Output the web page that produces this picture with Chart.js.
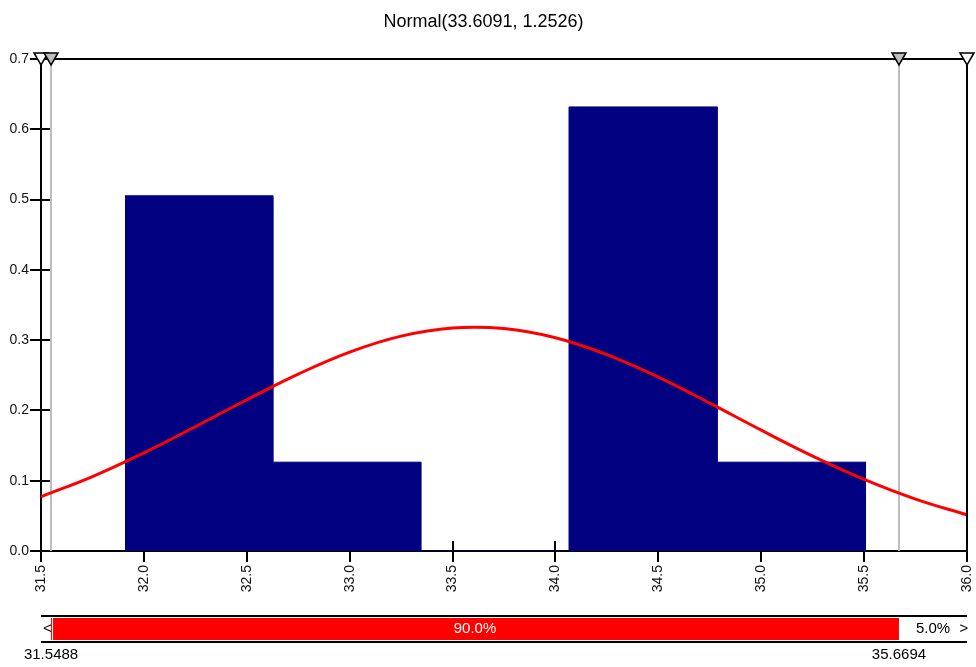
<!DOCTYPE html>
<html>
<head>
<meta charset="utf-8">
<script src="https://cdn.jsdelivr.net/npm/chart.js@4.4.1/dist/chart.umd.min.js"></script>
<style>
  html, body { margin: 0; padding: 0; background: #fff; }
  #wrap { width: 976px; height: 667px; }
</style>
</head>
<body>
<div id="wrap"><canvas id="distChart" width="976" height="667"></canvas></div>
<script>
// Histogram (density) : bin edges and heights
var binEdges = [31.908, 32.628, 33.347, 34.066, 34.787, 35.510];
var binDensity = [0.5054, 0.1264, 0, 0.6318, 0.1264];

// Fitted Normal(33.6091, 1.2526) curve, sampled every 0.25
var curveX = [31.5, 31.75, 32.0, 32.25, 32.5, 32.75, 33.0, 33.25, 33.5, 33.75,
              34.0, 34.25, 34.5, 34.75, 35.0, 35.25, 35.5, 35.75, 36.0];
var curveY = [0.0772, 0.1059, 0.1396, 0.1768, 0.2152, 0.2517, 0.2830, 0.3057, 0.3173, 0.3165,
              0.3034, 0.2794, 0.2474, 0.2104, 0.1719, 0.1350, 0.1019, 0.0739, 0.0515];

// Delimiters and the probability in each region
var cutoffs = [31.5488, 35.6694];
var regionPct = ['5.0%', '90.0%', '5.0%'];

var xTicks = { min: 31.5, max: 36.0, step: 0.5 };
var yTicks = { min: 0, max: 0.7, step: 0.1 };

var FONT = '"Liberation Sans", Arial, sans-serif';

function histPoints() {
  var pts = [];
  for (var i = 0; i < binDensity.length; i++) {
    pts.push({ x: binEdges[i], y: binDensity[i] });
  }
  // closing edge of the last bin
  pts.push({ x: binEdges[binEdges.length - 1], y: binDensity[binDensity.length - 1] });
  return pts;
}

function curvePoints() {
  var pts = [];
  for (var i in curveX) {
    pts.push({ x: curveX[i], y: curveY[i] });
  }
  return pts;
}

function triangle(ctx, x, top, fill) {
  ctx.beginPath();
  ctx.moveTo(x - 7, top);
  ctx.lineTo(x + 7, top);
  ctx.lineTo(x, top + 12);
  ctx.closePath();
  ctx.fillStyle = fill;
  ctx.fill();
  ctx.lineWidth = 1.5;
  ctx.strokeStyle = '#000';
  ctx.stroke();
}

// inner tick marks, delimiter lines, frame, sliders and the probability bar
var overlayPlugin = {
  id: 'overlay',
  beforeDatasetsDraw: function(chart) {
    var ctx = chart.ctx, a = chart.chartArea;
    var xs = chart.scales.x, ys = chart.scales.y;
    ctx.save();
    ctx.strokeStyle = '#000';
    ctx.lineWidth = 2;
    xs.ticks.forEach(function(t) {
      var px = Math.round(xs.getPixelForValue(t.value));
      ctx.beginPath(); ctx.moveTo(px, a.bottom); ctx.lineTo(px, a.bottom - 10); ctx.stroke();
    });
    ys.ticks.forEach(function(t) {
      var py = Math.round(ys.getPixelForValue(t.value));
      ctx.beginPath(); ctx.moveTo(a.left, py); ctx.lineTo(a.left + 11, py); ctx.stroke();
    });
    ctx.strokeStyle = '#bdbdbd';
    cutoffs.forEach(function(c) {
      var px = Math.round(xs.getPixelForValue(c));
      ctx.beginPath(); ctx.moveTo(px, a.top); ctx.lineTo(px, a.bottom); ctx.stroke();
    });
    ctx.restore();
  },
  afterDatasetsDraw: function(chart) {
    var ctx = chart.ctx, a = chart.chartArea;
    var xs = chart.scales.x;
    ctx.save();
    ctx.strokeStyle = '#000';
    ctx.lineWidth = 2;
    ctx.beginPath();
    ctx.moveTo(a.left, a.top); ctx.lineTo(a.right, a.top); ctx.lineTo(a.right, a.bottom);
    ctx.stroke();
    triangle(ctx, a.left, a.top - 6, '#fff');
    triangle(ctx, a.right, a.top - 6, '#fff');
    cutoffs.forEach(function(c) {
      triangle(ctx, xs.getPixelForValue(c), a.top - 6, '#bdbdbd');
    });
    ctx.restore();
  },
  afterDraw: function(chart) {
    var ctx = chart.ctx, a = chart.chartArea;
    var xs = chart.scales.x;
    var top = 616, bot = 642;
    var lo = xs.getPixelForValue(cutoffs[0]), hi = xs.getPixelForValue(cutoffs[1]);
    ctx.save();
    ctx.fillStyle = '#000';
    ctx.font = '15px ' + FONT;
    ctx.textBaseline = 'middle';
    ctx.textAlign = 'left';
    ctx.fillText('<', a.left + 2, (top + bot) / 2);
    ctx.textAlign = 'center';
    ctx.fillText('>', a.right - 3, (top + bot) / 2);
    ctx.fillText(regionPct[2], (hi + a.right) / 2, (top + bot) / 2);

    ctx.fillStyle = '#ff0000';
    ctx.fillRect(lo, top + 2, hi - lo, bot - top - 4);
    ctx.fillStyle = '#fff';
    ctx.fillRect(lo + 1, top + 2, 1, bot - top - 4);
    ctx.fillText(regionPct[1], (lo + hi) / 2, (top + bot) / 2);

    ctx.strokeStyle = '#000';
    ctx.lineWidth = 2;
    ctx.beginPath();
    ctx.moveTo(a.left, top); ctx.lineTo(a.right, top);
    ctx.moveTo(a.left, bot); ctx.lineTo(a.right, bot);
    ctx.stroke();

    ctx.fillStyle = '#000';
    ctx.textBaseline = 'top';
    ctx.fillText(cutoffs[0].toFixed(4), lo, bot + 5);
    ctx.fillText(cutoffs[1].toFixed(4), hi, bot + 5);
    ctx.restore();
  }
};

var chartData = {
  datasets: [{
    label: 'Normal fit',
    data: curvePoints(),
    borderColor: '#ff0000',
    borderWidth: 3,
    pointRadius: 0,
    tension: 0.4,
    fill: false,
    order: 0
  }, {
    label: 'Histogram',
    data: histPoints(),
    stepped: 'before',
    fill: 'origin',
    backgroundColor: '#000080',
    borderColor: '#000080',
    borderWidth: 1,
    pointRadius: 0,
    order: 1
  }]
};

var chartOptions = {
  responsive: false,
  animation: false,
  layout: { padding: { left: 0, right: 9, top: 0, bottom: 0 } },
  plugins: {
    legend: { display: false },
    tooltip: { enabled: false },
    title: {
      display: true,
      text: 'Normal(33.6091, 1.2526)',
      color: '#000',
      font: { family: FONT, size: 18, weight: 'normal' },
      padding: { top: 11, bottom: 26.4 }
    }
  },
  scales: {
    x: {
      type: 'linear',
      min: xTicks.min,
      max: xTicks.max,
      afterFit: function(scale) {
        scale.height = 116;
        scale.paddingLeft = 0;
        scale.paddingRight = 0;
      },
      afterBuildTicks: function(scale) {
        var t = [];
        for (var v = xTicks.min; v <= xTicks.max + 1e-9; v += xTicks.step) t.push({ value: v });
        scale.ticks = t;
      },
      ticks: {
        autoSkip: false,
        minRotation: 90,
        maxRotation: 90,
        padding: 3,
        color: '#111',
        font: { family: FONT, size: 14 },
        callback: function(v) { return Number(v).toFixed(1); }
      },
      grid: { drawOnChartArea: false, tickLength: 11, color: '#000', lineWidth: 2 },
      border: { display: true, color: '#000', width: 2 }
    },
    y: {
      min: yTicks.min,
      max: yTicks.max,
      afterFit: function(scale) {
        scale.width = 41;
        scale.paddingTop = 0;
        scale.paddingBottom = 0;
      },
      ticks: {
        stepSize: yTicks.step,
        padding: 1,
        color: '#111',
        font: { family: FONT, size: 14 },
        callback: function(v) { return Number(v).toFixed(1); }
      },
      grid: { drawOnChartArea: false, tickLength: 11, color: '#000', lineWidth: 2 },
      border: { display: true, color: '#000', width: 2 }
    }
  }
};

var distChart = new Chart(document.getElementById('distChart').getContext('2d'), {
  type: 'line',
  data: chartData,
  options: chartOptions,
  plugins: [overlayPlugin]
});
</script>
</body>
</html>
